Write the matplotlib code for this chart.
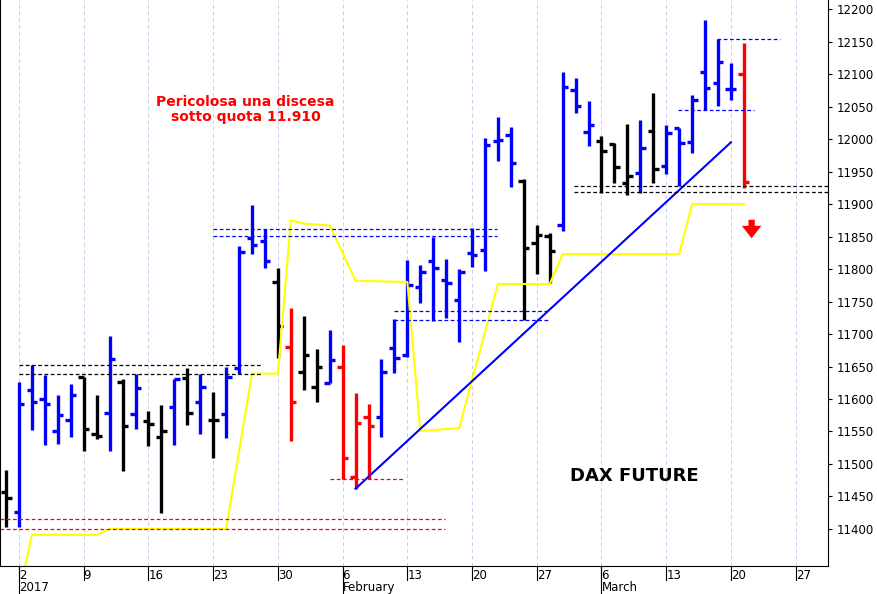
import numpy as np
import matplotlib.pyplot as plt

# daily OHLC, DAX future, Dec 30 2016 .. Mar 21 2017 (trading-day index)
idx = list(range(-1, 57))
high = [11491, 11626, 11652, 11637, 11606, 11623, 11634, 11606, 11697, 11631, 11639,
        11582, 11591, 11631, 11648, 11639, 11611, 11649, 11835, 11899, 11862, 11802,
        11740, 11728, 11677, 11706, 11683, 11609, 11592, 11662, 11723, 11814, 11806,
        11849, 11815, 11800, 11863, 12002, 12034, 12019, 11939, 11868, 11855, 12103,
        12094, 12059, 12005, 11994, 12023, 12029, 12071, 12022, 12017, 12068, 12183,
        12154, 12117, 12148]
low = [11403, 11403, 11552, 11529, 11531, 11542, 11520, 11539, 11520, 11489, 11554,
       11528, 11425, 11529, 11560, 11546, 11509, 11540, 11639, 11823, 11802, 11663,
       11536, 11614, 11596, 11625, 11477, 11462, 11477, 11542, 11640, 11665, 11748,
       11720, 11725, 11688, 11803, 11797, 11966, 11926, 11722, 11792, 11779, 11859,
       12040, 11989, 11917, 11932, 11914, 11917, 11932, 11946, 11928, 11979, 12045,
       12051, 12060, 11925]
opn = [11457, 11426, 11614, 11600, 11551, 11568, 11634, 11546, 11579, 11626, 11577,
       11566, 11541, 11588, 11632, 11596, 11568, 11577, 11648, 11848, 11843, 11780,
       11680, 11642, 11619, 11625, 11649, 11480, 11572, 11572, 11679, 11668, 11772,
       11812, 11783, 11752, 11825, 11829, 11997, 12006, 11936, 11840, 11851, 11868,
       12075, 12011, 11997, 11992, 11932, 11948, 12012, 11958, 12017, 11995, 12103,
       12086, 12077, 12100]
close = [11448, 11592, 11596, 11592, 11576, 11606, 11554, 11543, 11662, 11559, 11617,
         11562, 11551, 11631, 11578, 11619, 11568, 11634, 11826, 11837, 11812, 11712,
         11596, 11668, 11649, 11660, 11509, 11563, 11559, 11642, 11663, 11776, 11796,
         11802, 11779, 11796, 11822, 11991, 11998, 11963, 11832, 11852, 11828, 12080,
         12051, 12022, 11982, 11957, 11943, 11986, 11954, 12009, 11994, 12060, 12078,
         12118, 12077, 11934]
black_bars = [-1, 5, 6, 8, 10, 11, 13, 15, 20, 22, 23, 39, 40, 41, 45, 46, 47, 49]
red_bars = [21, 25, 26, 27, 56]

# yellow trailing line
stop_idx = [0, 1, 6, 7, 16, 18, 20, 21, 22, 24, 26, 30, 31, 34, 37, 41, 42, 51, 52, 56]
stop_val = [11300, 11391, 11391, 11400, 11400, 11639, 11639, 11875, 11870, 11867, 11782,
            11780, 11551, 11555, 11777, 11777, 11823, 11823, 11900, 11900]

# trend line
trend_idx = [26, 55]
trend_val = [11462, 11995]

# dashed levels: (price, start idx, end idx, colour)
levels = [(11652, 0, 18.8, 'black'), (11639, 0, 18.8, 'black'),
          (11415, -1.5, 32.9, 'red'), (11400, -1.5, 32.9, 'red'),
          (11862, 15, 36.9, 'blue'), (11851, 15, 36.9, 'blue'),
          (11477, 24, 29.8, 'red'),
          (11735, 29, 40.9, 'blue'), (11722, 29, 40.9, 'blue'),
          (11928, 42.9, 62.5, 'black'), (11918, 42.9, 62.5, 'black'),
          (12154, 53.9, 58.8, 'blue'), (12045, 50.9, 56.8, 'blue')]

day_ticks = [0, 5, 10, 15, 20, 25, 30, 35, 40, 45, 50, 55, 60]
day_labels = ['2', '9', '16', '23', '30', '6', '13', '20', '27', '6', '13', '20', '27']
months = [(0, '2017'), (25, 'February'), (45, 'March')]

fig = plt.figure(figsize=(8.77, 5.94), dpi=100)
ax = fig.add_axes([0.0, 28 / 594, 828 / 877, 566 / 594])

for i, h, l, o, c in zip(idx, high, low, opn, close):
    col = 'black' if i in black_bars else ('red' if i in red_bars else 'blue')
    ax.vlines(i, l, h, color=col, lw=2.4)
    ax.hlines(o, i - 0.42, i, color=col, lw=2.4)
    ax.hlines(c, i, i + 0.42, color=col, lw=2.4)

ax.plot(stop_idx, stop_val, color='yellow', lw=1.5)
ax.plot(trend_idx, trend_val, color='blue', lw=1.5)
for p, a, b, col in levels:
    ax.hlines(p, a, b, color=col, lw=0.9, linestyles=(0, (3, 2)))

ax.annotate('', xy=(56.6, 11843), xytext=(56.6, 11880),
            arrowprops=dict(arrowstyle='simple,head_width=1.4,head_length=0.9,tail_width=0.45',
                            color='red', lw=0))
ax.text(17.5, 12045, 'Pericolosa una discesa\nsotto quota 11.910', color='red',
        fontsize=10, fontweight='bold', ha='center', va='center', linespacing=1.1)
ax.text(47.5, 11482, 'DAX FUTURE', fontsize=13, fontweight='bold', ha='center', va='center')

ax.set_xlim(-1.47, 62.5)
ax.set_ylim(11343, 12214)
ax.spines['top'].set_visible(False)
ax.yaxis.tick_right()
ax.set_yticks(range(11400, 12201, 50))
ax.tick_params(axis='y', labelsize=8.5, length=3, direction='out')
ax.set_xticks(day_ticks)
ax.set_xticklabels(day_labels, ha='left', fontsize=8.5)
ax.tick_params(axis='x', length=0, pad=2)
for t in day_ticks:
    ax.axvline(t, color='#ccccee', lw=0.7, ls=(0, (4, 3)), zorder=0)
    ax.plot([t, t], [0, -0.025], transform=ax.get_xaxis_transform(), color='black',
            lw=0.8, clip_on=False)
for t, lab in months:
    ax.text(t, -0.038, lab, transform=ax.get_xaxis_transform(), fontsize=8.5,
            ha='left', va='center')
    ax.plot([t, t], [0, -0.05], transform=ax.get_xaxis_transform(), color='black',
            lw=0.8, clip_on=False)

fig.savefig('out.png', dpi=100)
